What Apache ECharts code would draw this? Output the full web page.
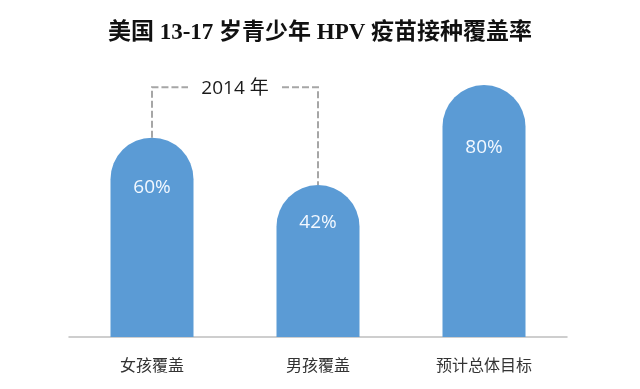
<!DOCTYPE html>
<html>
<head>
<meta charset="utf-8">
<script src="https://cdn.jsdelivr.net/npm/echarts@6/dist/echarts.min.js"></script>
<style>html,body{margin:0;padding:0;background:#fff;}#c{width:640px;height:389px;}</style>
</head>
<body>
<div id="c"></div>
<script>
const titleText = '美国 13-17 岁青少年 HPV 疫苗接种覆盖率';
const categories = ['女孩覆盖', '男孩覆盖', '预计总体目标'];
const coverage = [60, 42, 80];
const bracketLabel = '2014 年';
const bracketBars = [0, 1];
const bracketLevel = 95;

const chart = echarts.init(document.getElementById('c'), null, {renderer: 'canvas'});
const BLUE = '#5b9bd5';
const DASH = '#a6a6a6';

function capInfo(api, idx, v) {
  const base = api.coord([idx, 0]);
  const top = api.coord([idx, v]);
  const w = api.size([1, 0])[0] * 0.5;
  return {cx: base[0], base: base[1], top: top[1], r: w / 2, w: w};
}

chart.setOption({
  animation: false,
  backgroundColor: '#fff',
  title: {
    text: titleText,
    left: 'center',
    top: 17,
    textStyle: {
      fontFamily: '"Liberation Serif", "Noto Sans CJK SC", serif',
      fontWeight: 'bold',
      fontSize: 23,
      color: '#111'
    }
  },
  grid: {left: 69, right: 73, top: 74, bottom: 52},
  xAxis: {
    type: 'category',
    data: categories,
    axisLine: {lineStyle: {color: '#bfbfbf', width: 1.5}},
    axisTick: {show: false},
    axisLabel: {
      margin: 20,
      fontSize: 16,
      color: '#333',
      fontFamily: '"Noto Sans CJK SC", sans-serif'
    }
  },
  yAxis: {type: 'value', min: 0, max: 100, show: false, splitLine: {show: false}},
  series: [
    {
      type: 'custom',
      data: coverage.map((v, i) => [i, v]),
      renderItem: function (params, api) {
        const idx = api.value(0), v = api.value(1);
        const c = capInfo(api, idx, v);
        const total = c.base - c.top + c.r;
        const x0 = c.cx - c.r, x1 = c.cx + c.r;
        const d = 'M' + x0 + ',' + c.base + ' L' + x0 + ',' + c.top +
          ' A' + c.r + ',' + c.r + ' 0 0 1 ' + x1 + ',' + c.top +
          ' L' + x1 + ',' + c.base + ' Z';
        return {
          type: 'group',
          children: [
            {type: 'path', shape: {pathData: d}, style: {fill: BLUE}},
            {type: 'text', x: c.cx, y: c.base - total * 0.75,
              style: {text: v + '%', fill: '#f2f8ff', fontSize: 19, fontFamily: '"Open Sans", sans-serif', align: 'center', verticalAlign: 'middle'}}
          ]
        };
      }
    },
    {
      type: 'custom',
      data: [[bracketBars[0], bracketBars[1]]],
      renderItem: function (params, api) {
        const a = capInfo(api, bracketBars[0], coverage[bracketBars[0]]);
        const b = capInfo(api, bracketBars[1], coverage[bracketBars[1]]);
        const y = api.coord([0, bracketLevel])[1];
        const mid = (a.cx + b.cx) / 2;
        const gap = 47;
        const ls = {stroke: DASH, lineWidth: 2, lineDash: [7, 3], fill: null};
        return {
          type: 'group',
          children: [
            {type: 'polyline', shape: {points: [[a.cx, a.top - a.r], [a.cx, y], [mid - gap, y]]}, style: ls},
            {type: 'polyline', shape: {points: [[mid + gap, y], [b.cx, y], [b.cx, b.top - b.r]]}, style: ls},
            {type: 'text', x: mid, y: y + 1,
              style: {text: bracketLabel, fill: '#1a1a1a', fontSize: 19, fontFamily: '"Open Sans", "Noto Sans CJK SC", sans-serif', align: 'center', verticalAlign: 'middle'}}
          ]
        };
      }
    }
  ]
});
</script>
</body>
</html>
